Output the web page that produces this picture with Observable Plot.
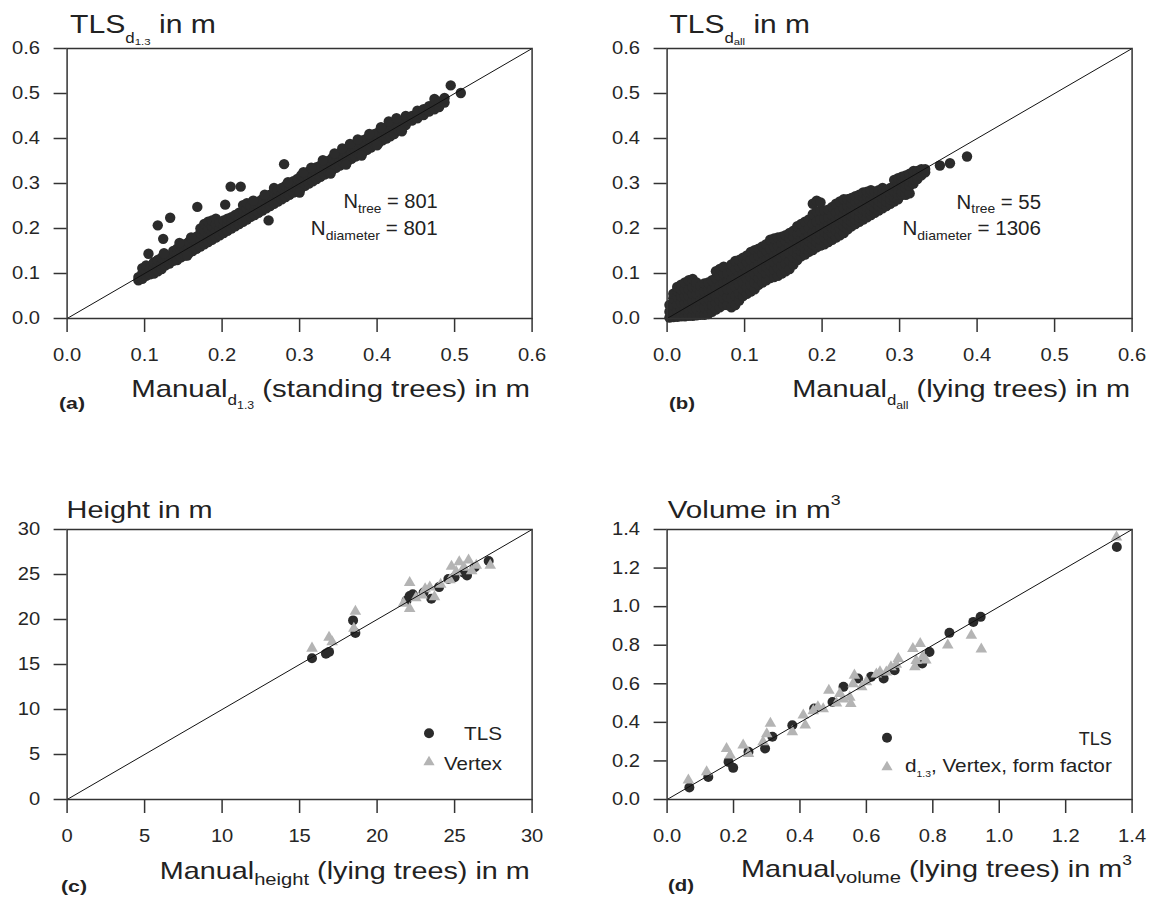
<!DOCTYPE html>
<html><head><meta charset="utf-8">
<script src="https://cdn.jsdelivr.net/npm/d3@7"></script>
<script src="https://cdn.jsdelivr.net/npm/@observablehq/plot@0.6"></script>
<style>
html,body{margin:0;padding:0;background:#fff;}
#root{position:relative;width:1153px;height:897px;overflow:hidden;font-family:"Liberation Sans",Arial,sans-serif;}
.panel{position:absolute;}
#overlay{position:absolute;left:0;top:0;}
</style></head><body><div id="root"></div>
<script>
// ---------- tick labels ----------
const diamTicks = [0, 0.1, 0.2, 0.3, 0.4, 0.5, 0.6];
const heightTicks = [0, 5, 10, 15, 20, 25, 30];
const volumeTicks = [0, 0.2, 0.4, 0.6, 0.8, 1.0, 1.2, 1.4];

// ---------- (a) standing trees: manual d1.3 vs TLS d1.3 (columns: manual, [TLS values]) ----------
const aColumns = [
 [0.092,[0.085,0.092]],[0.097,[0.088,0.1,0.112]],[0.102,[0.095,0.105,0.118]],[0.107,[0.098,0.11]],
 [0.112,[0.1,0.112,0.125]],[0.117,[0.105,0.118,0.13]],[0.122,[0.11,0.122,0.135]],[0.127,[0.118,0.128,0.14]],
 [0.132,[0.122,0.133]],[0.137,[0.128,0.14,0.15]],[0.142,[0.13,0.145,0.155]],[0.147,[0.136,0.15,0.162]],
 [0.152,[0.14,0.152,0.165]],[0.157,[0.145,0.158,0.17]],[0.162,[0.15,0.163,0.175]],[0.167,[0.155,0.17,0.182]],
 [0.172,[0.16,0.175,0.19,0.2]],[0.177,[0.165,0.18,0.195,0.21]],[0.182,[0.17,0.185,0.2,0.215]],[0.187,[0.175,0.19,0.205,0.218]],
 [0.192,[0.18,0.195,0.21,0.222]],[0.197,[0.185,0.2,0.213]],[0.202,[0.19,0.205,0.218]],[0.207,[0.195,0.21,0.222]],
 [0.212,[0.2,0.213,0.225]],[0.217,[0.205,0.218,0.23]],[0.222,[0.21,0.223,0.235]],[0.227,[0.215,0.228,0.24,0.252]],
 [0.232,[0.22,0.233,0.245,0.256]],[0.237,[0.226,0.238,0.25]],[0.242,[0.23,0.243,0.255]],[0.247,[0.235,0.25,0.26]],
 [0.252,[0.24,0.253,0.265]],[0.257,[0.245,0.258,0.27]],[0.262,[0.25,0.262,0.275]],[0.267,[0.255,0.268,0.28,0.29]],
 [0.272,[0.26,0.272,0.285]],[0.277,[0.265,0.278,0.29]],[0.282,[0.27,0.283,0.295]],[0.287,[0.275,0.288,0.3]],
 [0.292,[0.28,0.293,0.305]],[0.297,[0.285,0.297,0.31]],[0.302,[0.29,0.303,0.318]],[0.307,[0.295,0.308,0.322]],
 [0.312,[0.3,0.313,0.327]],[0.317,[0.305,0.318,0.332]],[0.322,[0.31,0.323,0.336]],[0.327,[0.315,0.328,0.34]],
 [0.332,[0.32,0.333,0.345]],[0.337,[0.325,0.338,0.35]],[0.342,[0.33,0.343,0.356]],[0.347,[0.335,0.348,0.362]],
 [0.352,[0.34,0.353,0.366]],[0.357,[0.345,0.358,0.372]],[0.362,[0.35,0.363,0.378]],[0.367,[0.355,0.368,0.383]],
 [0.372,[0.36,0.373,0.388]],[0.377,[0.365,0.378,0.392]],[0.382,[0.37,0.383,0.396]],[0.387,[0.375,0.388,0.4]],
 [0.392,[0.38,0.393,0.404]],[0.397,[0.386,0.398,0.41]],[0.402,[0.39,0.403,0.414]],[0.407,[0.396,0.408,0.42]],
 [0.412,[0.4,0.413,0.424]],[0.417,[0.405,0.418,0.43]],[0.422,[0.41,0.423,0.435]],[0.427,[0.42,0.43]],
 [0.437,[0.43,0.44,0.45]],[0.445,[0.44,0.45]],[0.452,[0.445,0.455,0.462]],[0.46,[0.452,0.465]],
 [0.467,[0.46,0.472]],[0.474,[0.465,0.478,0.488]],[0.48,[0.47,0.482]],[0.487,[0.48,0.49]]
];
// ragged edge points of the band
const aEdge = [[0.125,0.145],[0.145,0.168],[0.155,0.14],[0.16,0.18],[0.24,0.262],[0.255,0.275],[0.285,0.303],
 [0.3,0.28],[0.305,0.325],[0.315,0.335],[0.33,0.352],[0.34,0.322],[0.345,0.367],[0.355,0.378],[0.36,0.342],
 [0.365,0.388],[0.375,0.398],[0.38,0.362],[0.39,0.41],[0.4,0.385],[0.405,0.425],[0.415,0.438],[0.425,0.445]];
const aOutliers = [[0.105,0.144],[0.117,0.207],[0.124,0.177],[0.133,0.224],[0.168,0.248],[0.204,0.253],
 [0.211,0.293],[0.224,0.293],[0.280,0.343],[0.260,0.218],[0.432,0.416],[0.495,0.518],[0.508,0.501]];

// ---------- (b) lying trees: manual d_all vs TLS d_all ----------
const bColumns = [
 [0.003,[0.002,0.015,0.03]],[0.008,[0.003,0.015,0.03,0.045,0.055]],[0.013,[0.004,0.018,0.032,0.048,0.062,0.07]],
 [0.018,[0.005,0.02,0.035,0.05,0.065,0.075]],[0.023,[0.005,0.02,0.035,0.05,0.065,0.08]],[0.028,[0.006,0.02,0.035,0.05,0.065,0.085]],
 [0.033,[0.006,0.022,0.038,0.055,0.07,0.088]],[0.038,[0.007,0.022,0.04,0.055,0.07,0.08]],[0.043,[0.008,0.025,0.04,0.058,0.072]],
 [0.048,[0.008,0.025,0.042,0.06,0.078]],[0.053,[0.01,0.028,0.045,0.062,0.08]],[0.058,[0.015,0.03,0.048,0.065,0.085]],
 [0.063,[0.02,0.035,0.05,0.068,0.09,0.105]],[0.068,[0.025,0.04,0.055,0.072,0.095,0.11]],[0.073,[0.03,0.045,0.06,0.078,0.1,0.115]],
 [0.078,[0.03,0.048,0.065,0.082,0.1]],[0.083,[0.025,0.045,0.065,0.085,0.105,0.12]],[0.088,[0.03,0.05,0.07,0.09,0.11,0.128]],
 [0.093,[0.04,0.055,0.075,0.095,0.115,0.13]],[0.098,[0.05,0.065,0.08,0.1,0.12,0.135]],[0.103,[0.055,0.07,0.088,0.105,0.125,0.14]],
 [0.108,[0.06,0.075,0.092,0.11,0.13,0.148]],[0.113,[0.065,0.08,0.098,0.115,0.135,0.152]],[0.118,[0.075,0.09,0.105,0.12,0.14,0.155]],
 [0.123,[0.08,0.095,0.11,0.125,0.145,0.16]],[0.128,[0.085,0.1,0.115,0.13,0.15,0.165]],[0.133,[0.09,0.105,0.12,0.135,0.155,0.175]],
 [0.138,[0.092,0.108,0.125,0.14,0.16,0.178]],[0.143,[0.095,0.112,0.13,0.145,0.162,0.18]],[0.148,[0.1,0.118,0.135,0.15,0.168,0.182]],
 [0.153,[0.105,0.122,0.14,0.155,0.172,0.185]],[0.158,[0.11,0.128,0.145,0.16,0.178,0.19]],[0.163,[0.12,0.135,0.15,0.165,0.182,0.195]],
 [0.168,[0.13,0.142,0.155,0.17,0.188,0.205]],[0.173,[0.138,0.15,0.162,0.175,0.192,0.21]],[0.178,[0.142,0.155,0.168,0.18,0.198,0.215]],
 [0.183,[0.148,0.16,0.172,0.185,0.202,0.22]],[0.188,[0.152,0.165,0.178,0.19,0.21,0.232,0.255]],[0.193,[0.158,0.17,0.182,0.195,0.215,0.238,0.262]],
 [0.198,[0.162,0.175,0.188,0.2,0.22,0.24,0.258]],[0.203,[0.165,0.18,0.192,0.205,0.222,0.24]],[0.208,[0.17,0.185,0.198,0.21,0.225,0.242]],
 [0.213,[0.175,0.19,0.202,0.215,0.23,0.248]],[0.218,[0.18,0.195,0.208,0.22,0.235,0.255]],[0.223,[0.185,0.2,0.212,0.225,0.24,0.26]],
 [0.228,[0.19,0.205,0.218,0.23,0.245,0.265]],[0.233,[0.198,0.21,0.222,0.235,0.25,0.265]],[0.238,[0.205,0.215,0.228,0.24,0.255,0.268]],
 [0.243,[0.21,0.22,0.232,0.245,0.26,0.272]],[0.248,[0.215,0.225,0.238,0.25,0.262,0.275]],[0.253,[0.22,0.23,0.242,0.255,0.268,0.28]],
 [0.258,[0.225,0.235,0.248,0.26,0.272,0.282]],[0.263,[0.23,0.24,0.252,0.265,0.278,0.285]],[0.268,[0.235,0.245,0.258,0.27,0.282]],
 [0.273,[0.24,0.25,0.262,0.275,0.285]],[0.278,[0.245,0.255,0.268,0.28,0.29]],[0.283,[0.25,0.26,0.272,0.285]],
 [0.288,[0.255,0.265,0.278,0.29]],[0.293,[0.26,0.27,0.282,0.295,0.308]],[0.298,[0.265,0.275,0.288,0.3,0.312]],
 [0.303,[0.275,0.282,0.295,0.305,0.315]],[0.308,[0.275,0.29,0.3,0.31,0.318]],[0.313,[0.278,0.295,0.305,0.315,0.322]],
 [0.318,[0.3,0.31,0.32,0.328]],[0.323,[0.31,0.318,0.328]],[0.328,[0.318,0.325,0.332]],[0.333,[0.325,0.332]]
];
const bOutliers = [[0.352,0.340],[0.365,0.345],[0.387,0.360]];

// ---------- (c) heights: manual vs TLS / Vertex ----------
const cTLS = [[15.8,15.7],[16.7,16.2],[16.9,16.4],[18.45,19.9],[18.6,18.5],[21.9,22.1],[22.1,22.6],[22.3,22.8],
 [23.0,23.0],[23.5,22.3],[24.0,23.6],[24.6,24.5],[25.0,24.7],[25.6,25.2],[25.8,24.9],[26.3,25.8],[27.2,26.5]];
const cVertex = [[15.8,16.8],[16.9,18.0],[17.1,17.5],[18.6,20.9],[18.5,19.0],[21.7,21.8],[22.1,21.2],[22.1,24.1],
 [22.5,22.4],[22.9,22.7],[23.1,23.4],[23.4,23.6],[23.7,22.5],[24.1,23.9],[24.7,24.4],[24.8,25.9],[25.1,25.3],
 [25.3,26.4],[25.6,25.8],[25.9,26.6],[26.1,25.4],[26.4,26.0],[27.3,26.0]];

// ---------- (d) volumes: manual vs TLS / d1.3+Vertex+form factor ----------
const dTLS = [[0.067,0.062],[0.124,0.117],[0.185,0.195],[0.199,0.164],[0.245,0.247],[0.295,0.264],[0.317,0.325],
 [0.377,0.385],[0.443,0.472],[0.498,0.506],[0.531,0.584],[0.575,0.627],[0.614,0.636],[0.652,0.627],[0.685,0.670],
 [0.768,0.705],[0.790,0.765],[0.850,0.864],[0.922,0.921],[0.944,0.947],[1.354,1.309]];
const dVertex = [[0.064,0.10],[0.119,0.143],[0.179,0.264],[0.19,0.23],[0.229,0.282],[0.245,0.238],[0.289,0.299],
 [0.30,0.34],[0.311,0.394],[0.377,0.351],[0.41,0.437],[0.416,0.385],[0.44,0.46],[0.454,0.48],[0.47,0.47],
 [0.487,0.566],[0.51,0.5],[0.52,0.549],[0.53,0.52],[0.55,0.53],[0.553,0.497],[0.56,0.6],[0.564,0.644],[0.586,0.584],
 [0.6,0.61],[0.63,0.65],[0.641,0.661],[0.66,0.66],[0.674,0.687],[0.69,0.7],[0.696,0.73],[0.74,0.782],[0.75,0.72],
 [0.746,0.687],[0.762,0.808],[0.77,0.74],[0.779,0.722],[0.845,0.80],[0.916,0.851],[0.946,0.779],[1.353,1.36]];

// ---------- build ----------
const toPts = arr => arr.map(([x, y]) => ({x, y}));
const fromCols = cols => cols.flatMap(([x, ys]) => ys.map(y => ({x, y})));
const aPoints = fromCols(aColumns).concat(toPts(aEdge), toPts(aOutliers));
const bPoints = fromCols(bColumns).concat(toPts(bOutliers));

const FONT = "Liberation Sans, Arial, sans-serif";
const DARK = "#2b2b2b", GREY = "#b4b4b4";
const root = document.getElementById("root");

function panel({left, top, width, marginLeft, ticks, fmt, layers}) {
  const last = ticks[ticks.length - 1];
  const chart = Plot.plot({
    width, height: 420, marginLeft, marginRight: width - marginLeft - 465,
    marginTop: 48, marginBottom: 102,
    x: {domain: [ticks[0], last]}, y: {domain: [ticks[0], last]},
    style: {fontFamily: FONT, fontSize: "18px", color: "#262626", background: "transparent", overflow: "visible"},
    marks: [
      ...layers,
      Plot.link([ticks], {x1: t => t[0], y1: t => t[0], x2: t => t[t.length-1], y2: t => t[t.length-1], stroke: "#111", strokeWidth: 1}),
      Plot.frame({stroke: "#333", strokeWidth: 1.5}),
      Plot.axisX({ticks, tickFormat: fmt, tickSize: 14, tickPadding: 16, label: null, stroke: "#333", strokeWidth: 1.5, fontSize: 18}),
      Plot.axisY({ticks, tickFormat: fmt, tickSize: 13, tickPadding: 14, label: null, stroke: "#333", strokeWidth: 1.5, fontSize: 18})
    ]
  });
  chart.classList.add("panel");
  chart.style.left = left + "px";
  chart.style.top = top + "px";
  chart.style.position = "absolute";
  root.appendChild(chart);
  chart.querySelectorAll('g[aria-label$="tick label"] text').forEach(t => {
    t.setAttribute("transform", (t.getAttribute("transform") || "") + " scale(1.12,1)");
  });
}

const f1 = d3.format(".1f"), f0 = d3.format("d");
panel({left: 0, top: 0, width: 580, marginLeft: 66.6, ticks: diamTicks, fmt: f1,
  layers: [Plot.dot(aPoints, {x: "x", y: "y", r: 5.2, fill: DARK})]});
panel({left: 580, top: 0, width: 573, marginLeft: 86.6, ticks: diamTicks, fmt: f1,
  layers: [Plot.dot(bPoints, {x: "x", y: "y", r: 5.2, fill: DARK})]});
panel({left: 0, top: 481.3, width: 580, marginLeft: 66.6, ticks: heightTicks, fmt: f0,
  layers: [Plot.dot(toPts(cTLS), {x: "x", y: "y", r: 5, fill: DARK}),
           Plot.dot(toPts(cVertex), {x: "x", y: "y", r: 4.3, symbol: "triangle", fill: GREY})]});
panel({left: 580, top: 481.3, width: 573, marginLeft: 86.6, ticks: volumeTicks, fmt: f1,
  layers: [Plot.dot(toPts(dTLS), {x: "x", y: "y", r: 5, fill: DARK}),
           Plot.dot(toPts(dVertex), {x: "x", y: "y", r: 4.3, symbol: "triangle", fill: GREY})]});

// ---------- overlay texts ----------
const NS = "http://www.w3.org/2000/svg";
const ov = document.createElementNS(NS, "svg");
ov.setAttribute("id", "overlay"); ov.setAttribute("width", 1153); ov.setAttribute("height", 897);
root.appendChild(ov);

function txt(parts, {x, y, anchor = "start", size = 18, weight = "normal", width, fill = "#222"}) {
  const t = document.createElementNS(NS, "text");
  t.setAttribute("font-family", FONT);
  t.setAttribute("font-size", size);
  t.setAttribute("font-weight", weight);
  t.setAttribute("text-anchor", anchor);
  t.setAttribute("fill", fill);
  t.style.whiteSpace = "pre";
  let shift = 0;
  for (const [s, k = 1, sh = 0] of parts) {
    const ts = document.createElementNS(NS, "tspan");
    const target = sh * size;
    ts.setAttribute("dy", target - shift);
    shift = target;
    ts.setAttribute("font-size", k * size);
    ts.textContent = s;
    t.appendChild(ts);
  }
  ov.appendChild(t);
  let sx = 1;
  if (width) sx = width / t.getComputedTextLength();
  t.setAttribute("transform", `translate(${x},${y}) scale(${sx},1)`);
}
function sym(kind, x, y) {
  let e;
  if (kind === "circle") {
    e = document.createElementNS(NS, "circle");
    e.setAttribute("cx", x); e.setAttribute("cy", y); e.setAttribute("r", 5); e.setAttribute("fill", DARK);
  } else {
    e = document.createElementNS(NS, "polygon");
    e.setAttribute("points", `${x},${y-6} ${x-5.6},${y+3.6} ${x+5.6},${y+3.6}`);
    e.setAttribute("fill", GREY);
  }
  ov.appendChild(e);
}

// titles
txt([["TLS"],["d",0.56,0.4],["1.3",0.38,0.5],[" in m",1,0]], {x: 70, y: 33, size: 25, width: 146});
txt([["TLS"],["d",0.56,0.4],["all",0.38,0.5],[" in m",1,0]], {x: 669.5, y: 33, size: 25, width: 140.5});
txt([["Height in m"]], {x: 66.6, y: 518.3, size: 24, width: 146});
txt([["Volume in m"],["3",0.6,-0.55]], {x: 667.7, y: 518.3, size: 24, width: 173});

// axis labels
txt([["Manual"],["d",0.58,0.35],["1.3",0.42,0.5],[" (standing trees) in m",1,0]], {x: 530, y: 397, anchor: "end", size: 24, width: 399});
txt([["Manual"],["d",0.58,0.35],["all",0.42,0.5],[" (lying trees) in m",1,0]], {x: 1130, y: 397, anchor: "end", size: 24, width: 338});
txt([["Manual"],["height",0.7,0.25],[" (lying trees) in m",1,0]], {x: 529.8, y: 879, anchor: "end", size: 24, width: 370});
txt([["Manual"],["volume",0.7,0.25],[" (lying trees) in m",1,0],["3",0.6,-0.5]], {x: 1132, y: 877, anchor: "end", size: 24, width: 391});

// panel letters
txt([["(a)"]], {x: 59, y: 409, size: 17, weight: "bold", width: 26});
txt([["(b)"]], {x: 669, y: 409, size: 17, weight: "bold", width: 26});
txt([["(c)"]], {x: 61, y: 892, size: 17, weight: "bold", width: 26});
txt([["(d)"]], {x: 668, y: 891, size: 17, weight: "bold", width: 26});

// annotations
txt([["N"],["tree",0.68,0.22],[" = 801",1,0]], {x: 437.7, y: 208.3, anchor: "end", size: 20, width: 94.4});
txt([["N"],["diameter",0.68,0.25],[" = 801",1,0]], {x: 437.7, y: 235, anchor: "end", size: 20, width: 127});
txt([["N"],["tree",0.68,0.22],[" = 55",1,0]], {x: 1041, y: 209, anchor: "end", size: 20, width: 84.5});
txt([["N"],["diameter",0.68,0.25],[" = 1306",1,0]], {x: 1041, y: 235, anchor: "end", size: 20, width: 138.6});

// legends
sym("circle", 429, 733.3); sym("triangle", 429, 761.7);
txt([["TLS"]], {x: 502, y: 740, anchor: "end", size: 18, width: 38});
txt([["Vertex"]], {x: 502, y: 770, anchor: "end", size: 18, width: 58});
sym("circle", 887, 737.7); sym("triangle", 887, 766.7);
txt([["TLS"]], {x: 1111.8, y: 745, anchor: "end", size: 18, width: 33});
txt([["d"],["1.3",0.5,0.3],[", Vertex, form factor",1,0]], {x: 1111.8, y: 771.7, anchor: "end", size: 18, width: 207});
</script>
</body></html>
